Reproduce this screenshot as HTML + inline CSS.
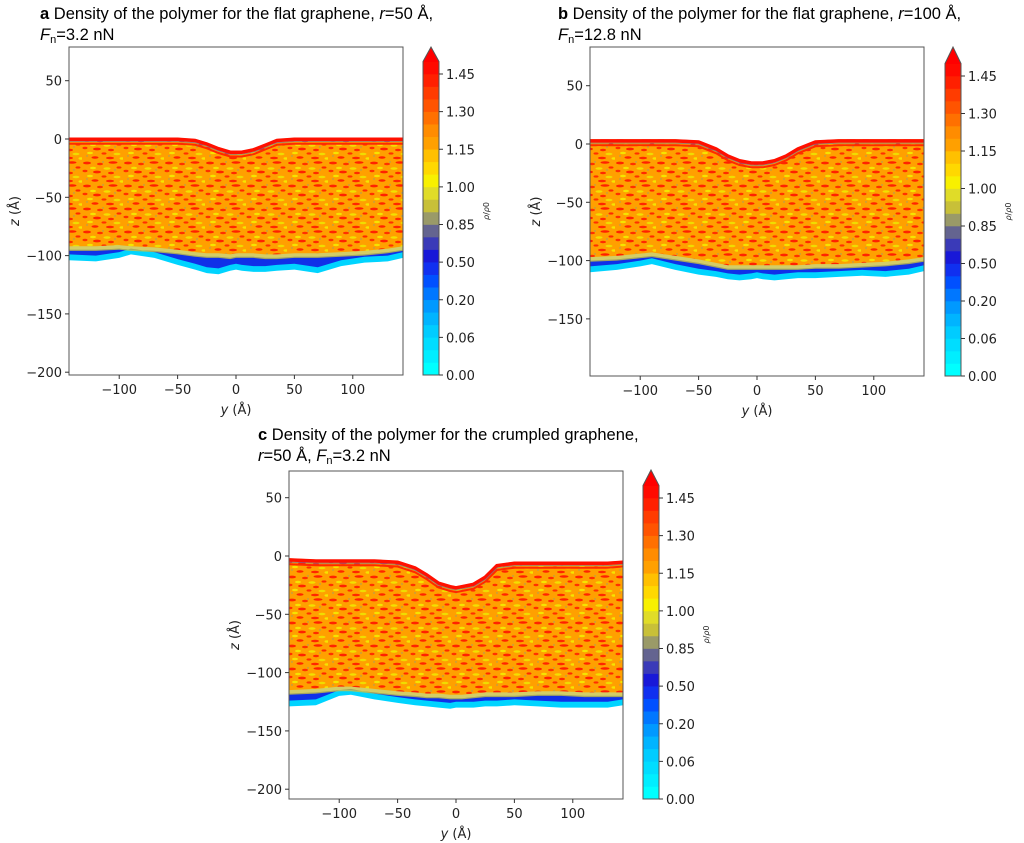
<!DOCTYPE html>
<html><head><meta charset="utf-8"><style>
html,body{margin:0;padding:0;background:#fff;width:1024px;height:843px;overflow:hidden}
svg text{font-family:"DejaVu Sans","Liberation Sans",sans-serif}
.tt{font-family:"Liberation Sans",sans-serif;font-size:16.5px;fill:#000}
</style></head><body>
<svg id="fig" width="1024" height="843" viewBox="0 0 1024 843" xmlns="http://www.w3.org/2000/svg">
<defs>
<pattern id="tex" width="41" height="23" patternUnits="userSpaceOnUse">
<rect width="41" height="23" fill="#ffa000"/>
<ellipse cx="5" cy="2" rx="4" ry="1.4" fill="#ff2400"/>
<ellipse cx="18" cy="3" rx="3" ry="1.3" fill="#ff3000"/>
<ellipse cx="31" cy="1.5" rx="4.5" ry="1.3" fill="#ff2000"/>
<ellipse cx="11" cy="7" rx="3" ry="1.2" fill="#f5e400"/>
<ellipse cx="25" cy="7.5" rx="3.5" ry="1.3" fill="#f2e000"/>
<ellipse cx="37" cy="6.5" rx="2.5" ry="1.1" fill="#ff2800"/>
<ellipse cx="3" cy="10" rx="2.5" ry="1.2" fill="#ff3000"/>
<ellipse cx="15" cy="11" rx="4" ry="1.4" fill="#ff2200"/>
<ellipse cx="29" cy="12" rx="3" ry="1.3" fill="#ff2a00"/>
<ellipse cx="8" cy="15" rx="3" ry="1.2" fill="#f5e400"/>
<ellipse cx="22" cy="15.5" rx="2.5" ry="1.1" fill="#ff3000"/>
<ellipse cx="35" cy="16" rx="3.5" ry="1.3" fill="#f0dc00"/>
<ellipse cx="13" cy="19.5" rx="3.5" ry="1.3" fill="#ff2400"/>
<ellipse cx="28" cy="20" rx="4" ry="1.3" fill="#ff2600"/>
<ellipse cx="40" cy="20.5" rx="2.5" ry="1.2" fill="#f5e400"/>
<circle cx="21" cy="1" r="0.7" fill="#9a9a70"/>
<circle cx="33" cy="9" r="0.7" fill="#9a9a70"/>
<circle cx="5" cy="18" r="0.7" fill="#9a9a70"/>
</pattern>
</defs>
<text class="tt" x="40" y="19"><tspan font-weight="bold">a</tspan> Density of the polymer for the flat graphene, <tspan font-style="italic">r</tspan>=50 Å,</text>
<text class="tt" x="40" y="40"><tspan font-style="italic">F</tspan><tspan font-size="11" dy="3">n</tspan><tspan dy="-3">=3.2 nN</tspan></text>
<text class="tt" x="558" y="19"><tspan font-weight="bold">b</tspan> Density of the polymer for the flat graphene, <tspan font-style="italic">r</tspan>=100 Å,</text>
<text class="tt" x="558" y="40"><tspan font-style="italic">F</tspan><tspan font-size="11" dy="3">n</tspan><tspan dy="-3">=12.8 nN</tspan></text>
<text class="tt" x="258" y="440"><tspan font-weight="bold">c</tspan> Density of the polymer for the crumpled graphene,</text>
<text class="tt" x="258" y="461"><tspan font-style="italic">r</tspan>=50 Å,  <tspan font-style="italic">F</tspan><tspan font-size="11" dy="3">n</tspan><tspan dy="-3">=3.2 nN</tspan></text>
</svg>
<script>
// ---- data ----
const yTickVals = [-100, -50, 0, 50, 100];
const zTickValsA = [50, 0, -50, -100, -150, -200];
const zTickValsB = [50, 0, -50, -100, -150];
const zTickValsC = [50, 0, -50, -100, -150, -200];
const cbarTicks = ['0.00','0.06','0.20','0.50','0.85','1.00','1.15','1.30','1.45'];
const cbarColors = ['#00ffff','#00eeff','#00ddff','#00ccff','#00b4ff','#0099ff','#0077ff','#0050ff','#1030f0','#1818d8','#3a3ab8','#646490','#9a9a68','#c8c038','#e0dc28','#f8f000','#ffd800','#ffc000','#ffa000','#ff8c00','#ff7000','#ff5400','#ff3c00','#ff2000','#ff0a00'];
// profile sample positions (y, Å)
const profY = [-143,-120,-100,-90,-70,-50,-35,-25,-15,-5,0,5,15,25,35,50,70,90,110,130,143];
// panel a
const topA  = [1,1,1,1,1,1,0,-3,-7,-10,-10,-10,-8,-4,0,1,1,1,1,1,1];
const coreA = [-95,-95,-94,-95,-96,-98,-100,-101,-101,-102,-101,-101,-101,-102,-102,-101,-101,-100,-99,-97,-95];
const blueA = [-102,-103,-100,-97,-100,-106,-110,-113,-114,-111,-110,-111,-112,-112,-111,-110,-113,-107,-104,-103,-100];
// panel b
const topB  = [4,4,4,4,4,3,-3,-9,-13,-15,-15,-15,-13,-9,-3,3,4,4,4,4,4];
const coreB = [-100,-99,-97,-96,-99,-102,-105,-107,-107,-107,-107,-107,-107,-107,-107,-106,-106,-105,-104,-102,-100];
const blueB = [-108,-106,-103,-101,-106,-110,-112,-114,-115,-114,-113,-114,-115,-114,-113,-113,-112,-111,-112,-110,-107];
// panel c
const topC  = [-2,-3,-3,-3,-3,-4,-9,-15,-22,-25,-26,-25,-23,-17,-7,-5,-5,-5,-5,-5,-4];
const coreC = [-118,-117,-115,-115,-117,-119,-120,-121,-121,-122,-122,-122,-121,-120,-120,-120,-119,-119,-120,-120,-120];
const blueC = [-127,-126,-118,-117,-121,-124,-126,-127,-128,-129,-128,-128,-128,-127,-127,-126,-127,-128,-128,-128,-126];

const NS = 'http://www.w3.org/2000/svg';
const svg = document.getElementById('fig');
function mk(tag, attrs, parent){const e=document.createElementNS(NS,tag);for(const k in attrs)e.setAttribute(k,attrs[k]);(parent||svg).appendChild(e);return e;}

function drawPanel(id, box, xlim, zlim, zTicks, top, core, blue, cbar){
  const g = mk('g',{});
  
  
  const sx = v => box.x0 + (v - xlim[0])/(xlim[1]-xlim[0])*(box.x1-box.x0);
  const sz = v => box.y0 + (zlim[1] - v)/(zlim[1]-zlim[0])*(box.y1-box.y0);
  const clip = 'clip'+id;
  const cp = mk('clipPath',{id:clip},g);
  mk('rect',{x:box.x0,y:box.y0,width:box.x1-box.x0,height:box.y1-box.y0},cp);
  const pg = mk('g',{'clip-path':'url(#'+clip+')'},g);
  const line = arr => profY.map((y,i)=>sx(y).toFixed(1)+','+sz(arr[i]).toFixed(1));
  const lineOff = (arr,d) => profY.map((y,i)=>sx(y).toFixed(1)+','+sz(arr[i]+d).toFixed(1));
  const cy = mk('polygon',{points:line(core).concat(lineOff(blue,-2).reverse()).join(' '),fill:'#00d4ff'},pg);
  
  
  const bl = mk('polygon',{points:line(core).concat(lineOff(blue,3).reverse()).join(' '),fill:'#1030e8'},pg);
  
  
  const ol = mk('polygon',{points:lineOff(core,5).concat(lineOff(core,-1).reverse()).join(' '),fill:'#c8c040','opacity':'0.8'},pg);
  
  
  const cr = mk('polygon',{points:line(top).concat(lineOff(core,3).reverse()).join(' '),fill:'url(#tex)'},pg);
  
  
  const l1 = mk('polyline',{points:lineOff(top,-1.3).join(' '),fill:'none',stroke:'#ff1000','stroke-width':3.5},pg);
  
  
  const l2 = mk('polyline',{points:lineOff(top,-5).join(' '),fill:'none',stroke:'#ff2a00','stroke-width':2},pg);
  
  
  const l3 = mk('polyline',{points:lineOff(top,-3.2).join(' '),fill:'none',stroke:'#6070b0','stroke-width':0.8,opacity:0.7},pg);
  
  
  const fr = mk('rect',{x:box.x0,y:box.y0,width:box.x1-box.x0,height:box.y1-box.y0,fill:'none',stroke:'#555','stroke-width':1},g);
  
  
  yTickVals.forEach(v=>{
    const x=sx(v);
    mk('line',{x1:x,x2:x,y1:box.y1,y2:box.y1+4,stroke:'#333'},g);
    const t=mk('text',{x:x,y:box.y1+19,'text-anchor':'middle','font-size':13,fill:'#222'},g);
    t.textContent = v<0 ? '\u2212'+(-v) : String(v);
    
    
  });
  zTicks.forEach(v=>{
    const y=sz(v);
    mk('line',{x1:box.x0-4,x2:box.x0,y1:y,y2:y,stroke:'#333'},g);
    const t=mk('text',{x:box.x0-7,y:y+5,'text-anchor':'end','font-size':13,fill:'#222'},g);
    t.textContent = v<0 ? '\u2212'+(-v) : String(v);
    
    
  });
  const xl = mk('text',{x:(box.x0+box.x1)/2,y:box.y1+39,'text-anchor':'middle','font-size':13,fill:'#222'},g);
  xl.innerHTML = '<tspan font-style="italic">y</tspan> (Å)';
  
  
  const zy = sz((zlim[0]+zlim[1])/2);
  const zl = mk('text',{x:box.x0-50,y:zy,'text-anchor':'middle','font-size':13,fill:'#222',transform:'rotate(-90 '+(box.x0-50)+' '+zy+')'},g);
  zl.innerHTML = '<tspan font-style="italic">z</tspan> (Å)';
  
  
  const cg = mk('g',{},g);
  
  
  const step = (cbar.y0 - cbar.y145)/(cbarTicks.length-1)/3;
  cbarColors.forEach((c,i)=>{
    const yb = cbar.y0 - i*step;
    const r = mk('rect',{x:cbar.x,y:yb-step-0.3,width:cbar.w,height:step+0.6,fill:c},cg);
    
    
  });
  const yb25 = cbar.y0 - cbarColors.length*step;
  const ar = mk('polygon',{points:[cbar.x,yb25+0.5,cbar.x+cbar.w,yb25+0.5,cbar.x+cbar.w/2,cbar.tip].join(' '),fill:'#ff0000'},cg);
  
  
  mk('polygon',{points:[cbar.x,cbar.y0,cbar.x,yb25,cbar.x+cbar.w/2,cbar.tip,cbar.x+cbar.w,yb25,cbar.x+cbar.w,cbar.y0].join(' '),fill:'none',stroke:'#555','stroke-width':1},cg);
  cbarTicks.forEach((lab,i)=>{
    const y = cbar.y0 - i*3*step;
    mk('line',{x1:cbar.x+cbar.w,x2:cbar.x+cbar.w+4,y1:y,y2:y,stroke:'#333'},cg);
    const t = mk('text',{x:cbar.x+cbar.w+7,y:y+5,'font-size':13,fill:'#222'},cg);
    t.textContent = lab;
    
    
  });
  const lx = cbar.x+cbar.w+50, ly=(cbar.y0+cbar.tip)/2;
  const cl = mk('text',{x:lx,y:ly,'text-anchor':'middle','font-size':8,fill:'#222',transform:'rotate(-90 '+lx+' '+ly+')'},cg);
  cl.innerHTML = '<tspan font-style="italic">ρ</tspan>/<tspan font-style="italic">ρ</tspan>0';
  
  
}
drawPanel('a',{x0:69,x1:403,y0:47,y1:375},[-143,143],[-202.4,78.9],zTickValsA,topA,coreA,blueA,{x:423,w:16,y0:375,y145:74,tip:47});
drawPanel('b',{x0:590,x1:924,y0:47,y1:376},[-143,143],[-199,83.2],zTickValsB,topB,coreB,blueB,{x:945,w:16,y0:376,y145:76,tip:47});
drawPanel('c',{x0:289,x1:623,y0:471,y1:799},[-143,143],[-208.4,72.9],zTickValsC,topC,coreC,blueC,{x:643,w:16,y0:799,y145:498,tip:470});
</script>
</body></html>
